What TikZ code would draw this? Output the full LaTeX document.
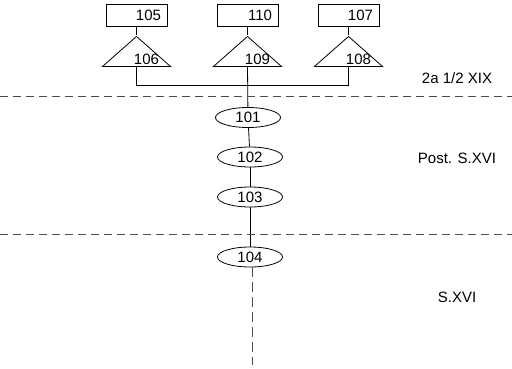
\documentclass[tikz,border=0pt]{standalone}
\usepackage{fontspec}
\setmainfont{Liberation Sans}
\usetikzlibrary{positioning,shapes.geometric}

\begin{document}
\begin{tikzpicture}[x=1pt, y=-1pt, line width=0.8pt, font=\fontsize{15}{17}\selectfont,
    box/.style={draw, text width=49pt, align=right, inner xsep=6pt, inner ysep=0pt, minimum height=22pt},
    tri/.style={draw, isosceles triangle, shape border rotate=90, isosceles triangle stretches,
        minimum width=68pt, minimum height=30pt, inner sep=0pt},
    oval/.style={draw, ellipse, minimum width=65pt, minimum height=20pt, inner sep=0pt},
    era/.style={dash pattern=on 8pt off 5pt, black!70}]
    \useasboundingbox (0,0) rectangle (512,368);

    % top row
    \node[box] (b105) at (136.5,15) {105};
    \node[box] (b110) at (247.5,15) {110};
    \node[box] (b107) at (348.5,15) {107};

    \node[tri, below=9pt of b105] (t106) {};
    \node[tri, below=9pt of b110] (t109) {};
    \node[tri, below=9pt of b107] (t108) {};
    \node at ([xshift=10pt, yshift=7.5pt]t106.south) (n106) {106};
    \node at ([xshift=10pt, yshift=7.5pt]t109.south) (n109) {109};
    \node at ([xshift=10pt, yshift=7.5pt]t108.south) (n108) {108};

    \draw (b105) -- (t106.north);
    \draw (b110) -- (t109.north);
    \draw (b107) -- (t108.north);

    % sequence
    \node[oval] (o101) at (248,117.5) {101};
    \node[oval] (o102) at (250,157) {102};
    \node[oval] (o103) at (250,197) {103};
    \node[oval] (o104) at (250,257) {104};
    \coordinate (join) at (247,85);
    \coordinate (tail) at (252,365);

    \draw (t106.south) |- (t108.south |- join) -- (t108.south);
    \draw (t109.south) -- (o101);
    \draw (o101) -- (o102);
    \draw (o102) -- (o103);
    \draw (o103) -- (o104);
    \draw[era, dash pattern=on 10pt off 5pt] (o104.south -| tail) -- (tail);

    % periods
    \draw[era] (0,96.5) -- (512,96.5);
    \draw[era] (0,234.5) -- (512,234.5);
    \node (p19) at (457,78) {2a 1/2 XIX};
    \node (p16post) at (457,158) {Post. S.XVI};
    \node (p16) at (457,297) {S.XVI};
\end{tikzpicture}
\end{document}
